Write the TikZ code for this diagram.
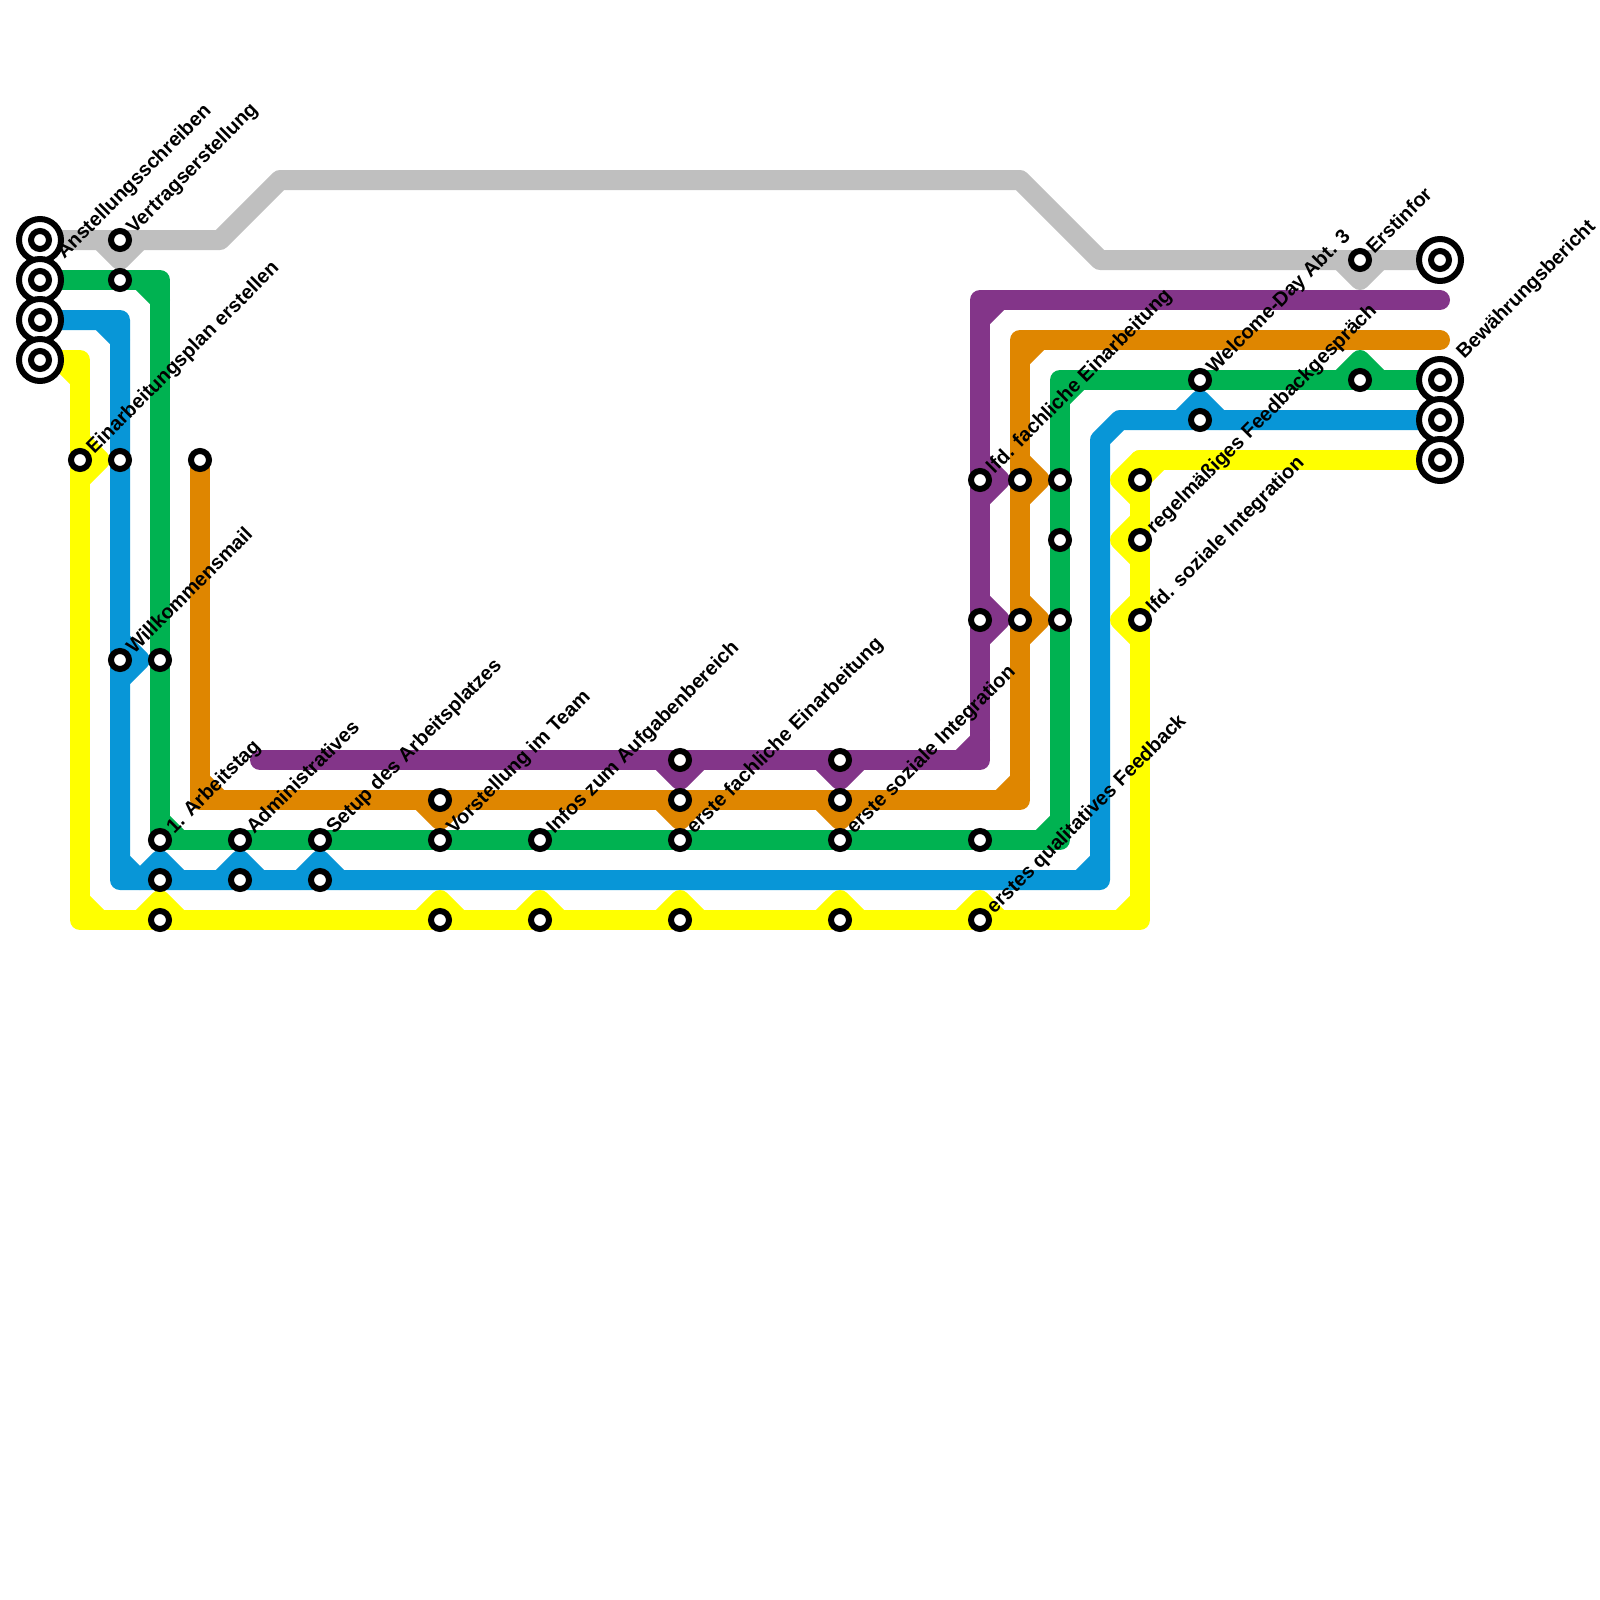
\documentclass[tikz,border=0pt]{standalone}
\usepackage{fontspec}
\setmainfont{Liberation Sans}
\definecolor{cgray}{HTML}{BFBFBF}
\definecolor{cgreen}{HTML}{00B251}
\definecolor{cblue}{HTML}{0896D7}
\definecolor{cyellow}{HTML}{FFFF00}
\definecolor{corange}{HTML}{DF8600}
\definecolor{cpurple}{HTML}{833589}
\pgfdeclarelayer{lines}
\pgfsetlayers{lines,main}
\tikzset{
  metro/.style={line width=10pt,line join=round,line cap=round,draw=#1},
  stn/.style={circle,draw=black,fill=white,line width=3pt,minimum size=9pt,inner sep=0pt},
  term/.style={circle,draw=black,fill=white,line width=3pt,minimum size=21pt,inner sep=0pt},
  lbl/.style={rotate=45,anchor=base west,inner sep=0pt,font=\fontsize{10}{12}\selectfont\bfseries,text=black},
}
\begin{document}
\begin{tikzpicture}[x=0.5pt,y=-0.5pt]
\useasboundingbox (0,0) rectangle (1600,1600);
% terminals
\foreach \n/\x/\y in {tgrayA/40/240,tgreenA/40/280,tblueA/40/320,tyelA/40/360,tgrayB/1440/260,tgreenB/1440/380,tblueB/1440/420,tyelB/1440/460}{
  \node[term] (\n) at (\x,\y) {};
  \node[stn] (\n i) at (\x,\y) {};
}
% stations
\foreach \n/\x/\y in {
  ga/120/240,gb/1360/260,
  na/120/280,nb/160/660,nc/160/840,nd/240/840,ne/320/840,nf/440/840,ng/540/840,nh/680/840,ni/840/840,nj/980/840,nk/1060/480,nl/1060/540,nm/1060/620,nn/1200/380,no/1360/380,
  ba/120/460,bb/120/660,bc/160/880,bd/240/880,be/320/880,bf/1200/420,
  ya/80/460,yb/160/920,yc/440/920,yd/540/920,ye/680/920,yf/840/920,yg/980/920,yh/1140/480,yi/1140/540,yj/1140/620,
  oa/200/460,ob/440/800,oc/680/800,od/840/800,oe/1020/480,of/1020/620,
  pa/680/760,pb/840/760,pc/980/480,pd/980/620}{
  \node[stn] (\n) at (\x,\y) {};
}
\begin{pgfonlayer}{lines}
% gray
\draw[metro=cgray] (tgrayA.center) -- (220,240) -- (280,180) -- (1020,180) -- (1100,260) -- (tgrayB.center);
\draw[metro=cgray] (ga.center) ++(-20,0) -- ++(20,20) -- ++(20,-20);
\draw[metro=cgray] (gb.center) ++(-20,0) -- ++(20,20) -- ++(20,-20);
% green
\draw[metro=cgreen] (tgreenA.center) -- (160,280) -- (nc.center) -- (1060,840) -- (1060,380) -- (tgreenB.center);
\draw[metro=cgreen] (140,280) -- (160,300);
\draw[metro=cgreen] (160,820) -- (180,840);
\draw[metro=cgreen] (1040,840) -- (1060,820);
\draw[metro=cgreen] (1060,400) -- (1080,380);
\draw[metro=cgreen] (no.center) ++(-20,0) -- ++(20,-20) -- ++(20,20);
% blue
\draw[metro=cblue] (tblueA.center) -- (120,320) -- (120,880) -- (1100,880) -- (1100,440) -- (1120,420) -- (tblueB.center);
\draw[metro=cblue] (100,320) -- (120,340);
\draw[metro=cblue] (120,860) -- (140,880);
\draw[metro=cblue] (1080,880) -- (1100,860);
\draw[metro=cblue] (bb.center) ++(0,-20) -- ++(20,20) -- ++(-20,20);
\foreach \s in {bc,bd,be,bf}
  \draw[metro=cblue] (\s.center) ++(-20,0) -- ++(20,-20) -- ++(20,20);
% yellow
\draw[metro=cyellow] (tyelA.center) -- (80,360) -- (80,920) -- (1140,920) -- (1140,480) -- (1140,460) -- (tyelB.center);
\draw[metro=cyellow] (60,360) -- (80,380);
\draw[metro=cyellow] (80,900) -- (100,920);
\draw[metro=cyellow] (1120,920) -- (1140,900);
\draw[metro=cyellow] (1160,460) -- (1140,480);
\draw[metro=cyellow] (ya.center) ++(0,-20) -- ++(20,20) -- ++(-20,20);
\foreach \s in {yb,yc,yd,ye,yf,yg}
  \draw[metro=cyellow] (\s.center) ++(-20,0) -- ++(20,-20) -- ++(20,20);
\foreach \s in {yh,yi,yj}
  \draw[metro=cyellow] (\s.center) ++(0,-20) -- ++(-20,20) -- ++(20,20);
% orange
\draw[metro=corange] (oa.center) -- (200,800) -- (1020,800) -- (1020,340) -- (1440,340);
\draw[metro=corange] (200,780) -- (220,800);
\draw[metro=corange] (1000,800) -- (1020,780);
\draw[metro=corange] (1020,360) -- (1040,340);
\foreach \s in {ob,oc,od}
  \draw[metro=corange] (\s.center) ++(-20,0) -- ++(20,20) -- ++(20,-20);
\foreach \s in {oe,of}
  \draw[metro=corange] (\s.center) ++(0,-20) -- ++(20,20) -- ++(-20,20);
% purple
\draw[metro=cpurple] (260,760) -- (980,760) -- (980,300) -- (1440,300);
\draw[metro=cpurple] (960,760) -- (980,740);
\draw[metro=cpurple] (980,320) -- (1000,300);
\foreach \s in {pa,pb}
  \draw[metro=cpurple] (\s.center) ++(-20,0) -- ++(20,20) -- ++(20,-20);
\foreach \s in {pc,pd}
  \draw[metro=cpurple] (\s.center) ++(0,-20) -- ++(20,20) -- ++(-20,20);
\end{pgfonlayer}
% labels
\foreach \n/\s/\t in {
  l1/ga/Vertragserstellung,
  l2/ya/Einarbeitungsplan erstellen,
  l3/bb/Willkommensmail,
  l4/nc/1. Arbeitstag,
  l5/nd/Administratives,
  l6/ne/Setup des Arbeitsplatzes,
  l7/nf/Vorstellung im Team,
  l8/ng/Infos zum Aufgabenbereich,
  l9/nh/erste fachliche Einarbeitung,
  l10/ni/erste soziale Integration,
  l11/yg/erstes qualitatives Feedback,
  l12/pc/lfd. fachliche Einarbeitung,
  l13/nn/Welcome-Day Abt. 3,
  l14/yi/regelmäßiges Feedbackgespräch,
  l15/yj/lfd. soziale Integration,
  l16/gb/Erstinfor}{
  \node[lbl] (\n) at ([shift={(14,-5)}]\s.center) {\t};
}
\node[lbl] (l17) at ([shift={(24,-20)}]tgreenA.center) {Anstellungsschreiben};
\node[lbl] (l18) at ([shift={(24,-20)}]tgreenB.center) {Bewährungsbericht};
\end{tikzpicture}
\end{document}
